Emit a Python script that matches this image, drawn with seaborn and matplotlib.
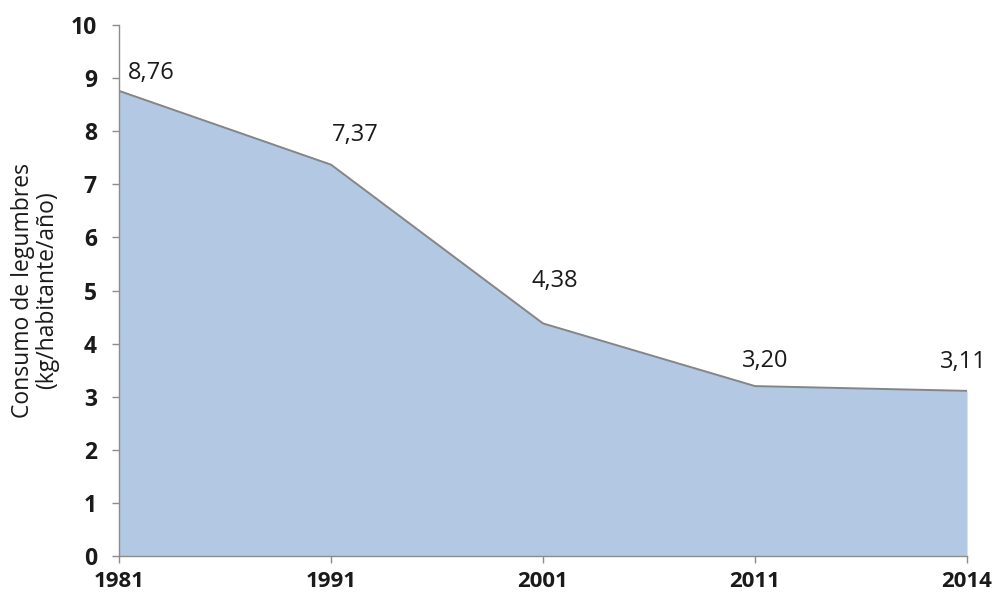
import numpy as np
import pandas as pd
import matplotlib
matplotlib.use("Agg")
import matplotlib.pyplot as plt
import seaborn as sns

years = ["1981", "1991", "2001", "2011", "2014"]
consumo = [8.76, 7.37, 4.38, 3.20, 3.11]
value_labels = ["8,76", "7,37", "4,38", "3,20", "3,11"]
y_ticks = [0, 1, 2, 3, 4, 5, 6, 7, 8, 9, 10]
y_title = "Consumo de legumbres\n(kg/habitante/año)"

# label offsets from each point, in pixels (dx, dy)
label_offsets = [(32, 18), (24, 30), (12, 42), (10, 25), (-4, 29)]

sns.set_theme(style="white")
plt.rcParams["font.family"] = ["Open Sans", "DejaVu Sans"]

df = pd.DataFrame({"pos": np.arange(len(years)), "year": years, "valor": consumo})

fig = plt.figure(figsize=(9.95, 5.98), dpi=100)
ax = fig.add_axes([0.1196, 0.0702, 0.8523, 0.8880])

ax.fill_between(df["pos"], 0, df["valor"], color="#b3c8e2", linewidth=0, zorder=1)
sns.lineplot(data=df, x="pos", y="valor", color="#858585", linewidth=1.4, ax=ax, zorder=2)

for x, y, lab, (dx, dy) in zip(df["pos"], df["valor"], value_labels, label_offsets):
    ax.annotate(lab, (x, y), xytext=(dx * 0.72, dy * 0.72), textcoords="offset points",
                ha="center", va="center", fontsize=17, color="#1a1a1a")

ax.set_xlim(0, len(years) - 1)
ax.set_ylim(0, 10)
ax.set_xticks(df["pos"])
ax.set_xticklabels(years, fontweight="bold", fontsize=16)
ax.set_yticks(y_ticks)
ax.set_yticklabels([str(t) for t in y_ticks], fontweight="bold", fontsize=16.5)
ax.set_xlabel("")
ax.set_ylabel(y_title, fontsize=16.5, color="#1a1a1a", labelpad=8, linespacing=1.0)

for side in ["top", "right"]:
    ax.spines[side].set_visible(False)
for side in ["left", "bottom"]:
    ax.spines[side].set_color("#8c8c8c")
    ax.spines[side].set_linewidth(1.0)
ax.tick_params(axis="both", which="major", direction="out", length=5, width=1,
               color="#8c8c8c", labelcolor="#1a1a1a", bottom=True, left=True)
ax.tick_params(axis="y", pad=11)
ax.tick_params(axis="x", pad=6)

fig.savefig("out.png", dpi=100)
